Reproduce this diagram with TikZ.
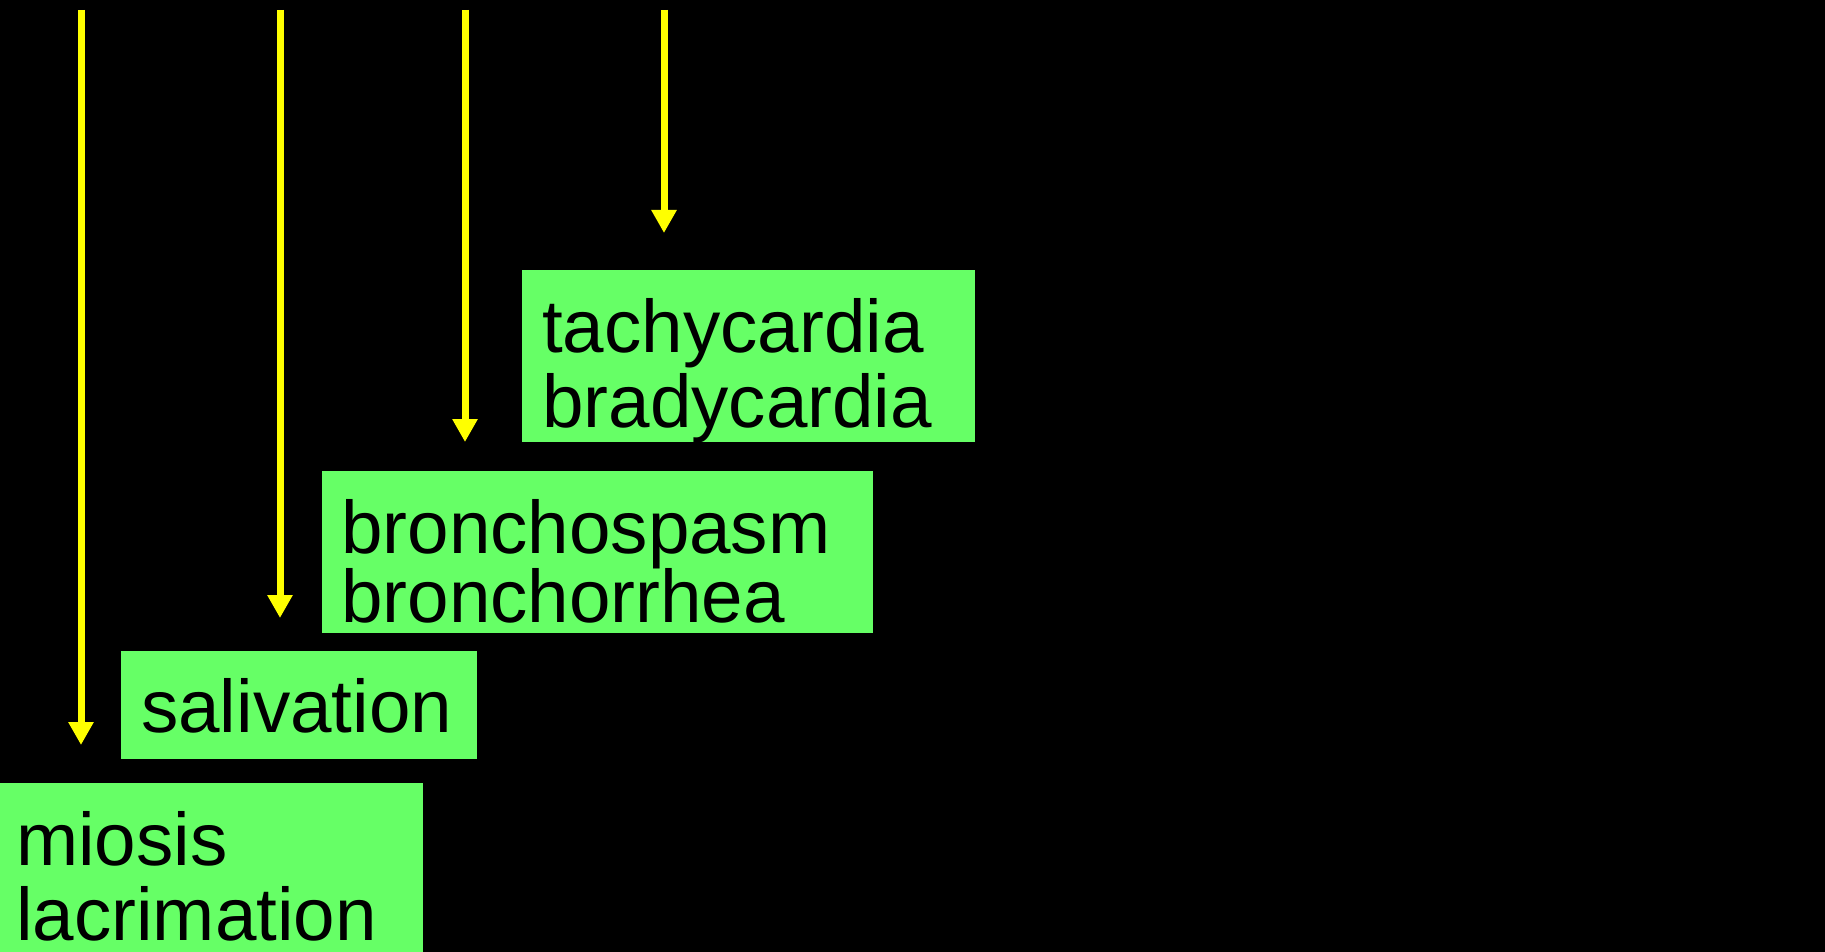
\documentclass[tikz,border=0pt]{standalone}
\usepackage{fontspec}
\setmainfont{Liberation Sans}
\usetikzlibrary{arrows.meta}
\definecolor{panelgreen}{HTML}{66FF66}
\definecolor{arrowyellow}{HTML}{FFFF00}
\tikzset{
  effect/.style={fill=panelgreen, draw=none, inner sep=0pt, anchor=north west},
  line/.style={font=\fontsize{74.6}{75}\selectfont, text=black, inner sep=0pt, anchor=base west},
  cascade/.style={draw=arrowyellow, line width=7pt,
    -{Triangle[width=24pt,length=23pt]}},
}
\begin{document}
\begin{tikzpicture}[x=1pt, y=-1pt]
  % black canvas
  \fill[black] (0,0) rectangle (1825,952);
  \useasboundingbox (0,0) rectangle (1825,952);

  % effect panels
  \node[effect, minimum width=453pt, minimum height=171.5pt] (tachy) at (521.5,270) {};
  \node[effect, minimum width=550.5pt, minimum height=162pt] (broncho) at (322,471) {};
  \node[effect, minimum width=355.5pt, minimum height=108.5pt] (saliv) at (121,650.5) {};
  \node[effect, minimum width=422.5pt, minimum height=169.5pt] (miosis) at (0,782.5) {};

  % panel texts
  \node[line] (t1) at ([shift={(20.5,82)}]tachy.north west) {tachycardia};
  \node[line] (t2) at ([shift={(20.5,157)}]tachy.north west) {bradycardia};
  \node[line] (b1) at ([shift={(19,82.5)}]broncho.north west) {bronchospasm};
  \node[line] (b2) at ([shift={(19,151)}]broncho.north west) {bronchorrhea};
  \node[line] (s1) at ([shift={(20,81.5)}]saliv.north west) {salivation};
  \node[line] (m1) at ([shift={(16,82.5)}]miosis.north west) {miosis};
  \node[line] (m2) at ([shift={(16,157.5)}]miosis.north west) {lacrimation};

  % arrows from the top edge
  \coordinate (a1) at (81,10);   \coordinate (e1) at (81,745);
  \coordinate (a2) at (280,10);  \coordinate (e2) at (280,618);
  \coordinate (a3) at (465,10);  \coordinate (e3) at (465,442);
  \coordinate (a4) at (664,10);  \coordinate (e4) at (664,233);
  \draw[cascade] (a1) -- (e1);
  \draw[cascade] (a2) -- (e2);
  \draw[cascade] (a3) -- (e3);
  \draw[cascade] (a4) -- (e4);
\end{tikzpicture}
\end{document}
